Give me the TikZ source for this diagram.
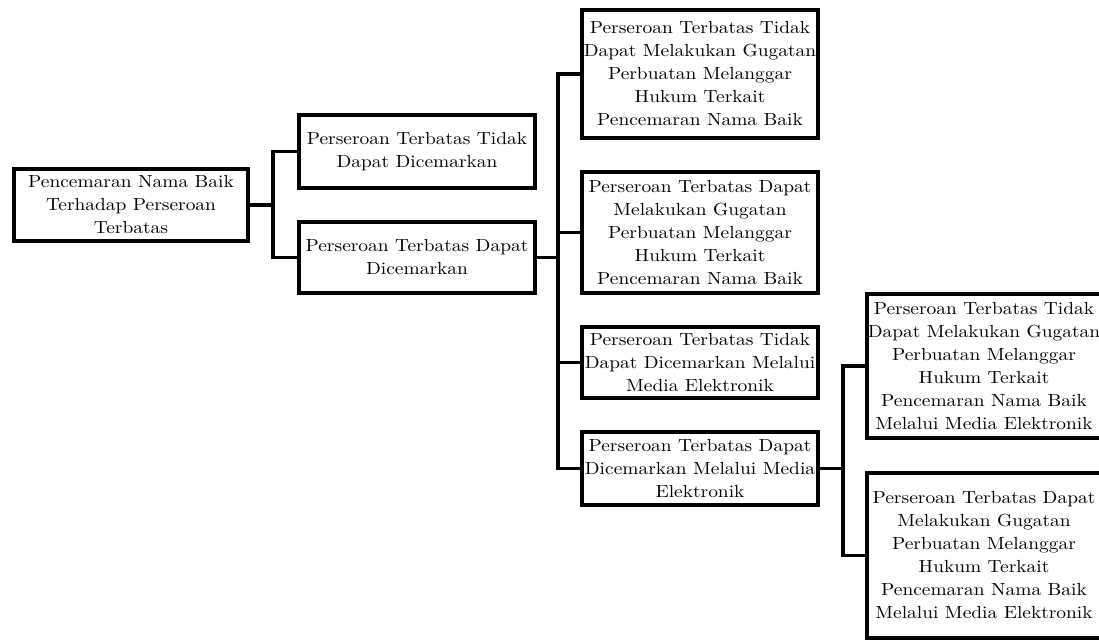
\documentclass[tikz,border=0pt]{standalone}
\usepackage{fontspec}
\setmainfont{lmroman10-regular.otf}[FakeStretch=1.11]
\begin{document}
\tikzset{
  box/.style={draw, line width=3.6pt, align=center, inner sep=0pt, font=\fontsize{17.5}{23}\selectfont},
  conn/.style={line width=3.6pt}
}
\begin{tikzpicture}[x=1pt,y=-1pt]
\useasboundingbox (0,0) rectangle (1099,643);
\node[box, minimum width=234, minimum height=72] (root) at (131,205) {Pencemaran Nama Baik\\Terhadap Perseroan\\Terbatas};
\node[box, minimum width=236, minimum height=73] (A) at (417,151.5) {Perseroan Terbatas Tidak\\Dapat Dicemarkan};
\node[box, minimum width=236, minimum height=71] (B) at (417,257.5) {Perseroan Terbatas Dapat\\Dicemarkan};
\node[box, minimum width=236, minimum height=128] (C1) at (700,74) {Perseroan Terbatas Tidak\\Dapat Melakukan Gugatan\\Perbuatan Melanggar\\Hukum Terkait\\Pencemaran Nama Baik};
\node[box, minimum width=236, minimum height=121] (C2) at (700,232.5) {Perseroan Terbatas Dapat\\Melakukan Gugatan\\Perbuatan Melanggar\\Hukum Terkait\\Pencemaran Nama Baik};
\node[box, minimum width=236, minimum height=71] (C3) at (700,362.5) {Perseroan Terbatas Tidak\\Dapat Dicemarkan Melalui\\Media Elektronik};
\node[box, minimum width=236, minimum height=73] (C4) at (700,468.5) {Perseroan Terbatas Dapat\\Dicemarkan Melalui Media\\Elektronik};
\node[box, minimum width=234, minimum height=144] (D1) at (984,366) {Perseroan Terbatas Tidak\\Dapat Melakukan Gugatan\\Perbuatan Melanggar\\Hukum Terkait\\Pencemaran Nama Baik\\Melalui Media Elektronik};
\node[box, minimum width=234, minimum height=165] (D2) at (984,555.5) {Perseroan Terbatas Dapat\\Melakukan Gugatan\\Perbuatan Melanggar\\Hukum Terkait\\Pencemaran Nama Baik\\Melalui Media Elektronik};
\coordinate (j1) at (273,205);
\coordinate (j2) at (558,257.5);
\coordinate (j3) at (843,468.5);
\draw[conn] (root.east) -- (j1);
\draw[conn] (A.west) -| (j1) |- (B.west);
\draw[conn] (B.east) -- (j2);
\draw[conn] (C1.west) -| (j2) |- (C4.west);
\draw[conn] (j2 |- C2.west) -- (C2.west);
\draw[conn] (j2 |- C3.west) -- (C3.west);
\draw[conn] (C4.east) -- (j3);
\draw[conn] (D1.west) -| (j3) |- (D2.west);
\end{tikzpicture}
\end{document}
